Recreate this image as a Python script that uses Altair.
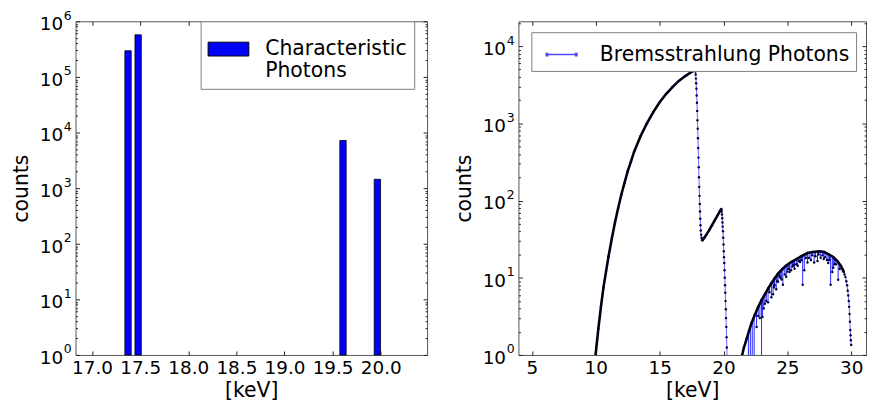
import altair as alt
import pandas as pd

FONT = "DejaVu Sans"

# ---------------- left panel: characteristic photons ----------------
char_energy = [17.374, 17.479, 19.608, 19.965]
char_counts = [2.95e5, 5.7e5, 7.2e3, 1.44e3]
char_base = [1, 1, 1, 1]
char_series = "Characteristic Photons"

left_xticks = [17.0, 17.5, 18.0, 18.5, 19.0, 19.5, 20.0]
left_yticks = [1, 10, 100, 1000, 10000, 100000, 1000000]
left_yminor = [k * 10 ** n for n in range(0, 6) for k in range(2, 10)]
left_xdom = [16.88, 20.43]
left_ydom = [1, 1000000]

# ---------------- right panel: bremsstrahlung photons ----------------
brems_series = "Bremsstrahlung Photons"
rise1_e = [9.95, 10.2, 10.4, 10.6, 10.8, 11.0, 11.25, 11.5, 11.75, 12.0, 12.25, 12.5,
           12.75, 13.0, 13.5, 14.0, 14.5, 15.0, 15.5, 16.0, 16.5, 17.0, 17.5, 17.77]
rise1_c = [0.9, 2.2, 4.2, 7.5, 12, 19, 32, 52, 80, 120, 170, 240,
           320, 430, 680, 1000, 1400, 1880, 2400, 2950, 3550, 4100, 4650, 4900]
drop1_e = [17.80, 17.82, 17.84, 17.86, 17.88, 17.90, 17.92, 17.94, 17.96, 17.98, 18.00, 18.02,
           18.04, 18.06, 18.08, 18.10, 18.12, 18.14, 18.16, 18.18, 18.20, 18.22, 18.25, 18.28,
           18.31, 18.34]
drop1_c = [4700, 4300, 3800, 3300, 2800, 2300, 1850, 1450, 1100, 850, 640, 480,
           360, 270, 200, 150, 115, 90, 72, 58, 48, 41, 36, 33,
           31, 30.5]
rise2_e = [18.34, 18.5, 18.7, 18.9, 19.1, 19.3, 19.5, 19.7, 19.82]
rise2_c = [30.5, 33, 37, 42, 48, 55, 63, 72, 78]
drop2_e = [19.84, 19.86, 19.88, 19.90, 19.92, 19.94, 19.96, 19.98, 20.00, 20.02, 20.04, 20.06,
           20.08, 20.10, 20.12, 20.14, 20.16, 20.18, 20.20, 20.22, 20.24, 20.26, 20.28]
drop2_c = [76, 72, 66, 59, 52, 46, 40, 33, 27, 22, 18.5, 15.5,
           12.5, 10, 8, 6.4, 5.0, 3.9, 3.0, 2.3, 1.7, 1.25, 0.9]
hump_e = [21.40, 21.6, 21.82, 22.0, 22.2, 22.45, 22.72, 23.0, 23.24, 23.5, 23.75, 24.0, 24.27,
          24.6, 24.91, 25.3, 25.68, 26.1, 26.58, 27.0, 27.49, 27.9, 28.26, 28.6, 28.90, 29.2, 29.42]
hump_c = [0.9, 1.25, 1.63, 2.05, 2.6, 3.3, 4.2, 5.2, 6.1, 7.3, 8.5, 9.8, 11.3,
          12.9, 14.4, 16.0, 17.3, 19.0, 20.9, 21.6, 22.0, 21.5, 20.0, 18.5, 16.5, 14.2, 11.9]
tail_e = [29.48, 29.55, 29.62, 29.68, 29.73, 29.77, 29.81, 29.84, 29.87, 29.90, 29.93, 29.95, 29.97, 30.00]
tail_c = [11.0, 10.2, 9.0, 8.0, 6.8, 5.9, 5.0, 4.2, 3.4, 2.7, 2.1, 1.8, 1.55, 1.35]
# noisy downward dips under the high-energy hump: energy, dip value, envelope value there
dip_e = [21.95, 22.10, 22.25, 22.40, 22.59, 22.72, 22.85, 22.98, 23.05, 23.15, 23.24, 23.35,
         23.49, 23.60, 23.75, 23.88, 23.95, 24.00, 24.13, 24.20, 24.27, 24.38, 24.45, 24.55,
         24.65, 24.80, 24.91, 25.00, 25.10, 25.17, 25.29, 25.40, 25.48, 25.56, 25.70, 25.81,
         25.92, 26.00, 26.10, 26.20, 26.33, 26.45, 26.58, 26.70, 26.85, 26.95, 27.10, 27.20,
         27.36, 27.45, 27.61, 27.75, 27.85, 27.95, 28.10, 28.20, 28.30, 28.39, 28.52, 28.60,
         28.70, 28.80, 28.98, 29.10]
dip_c = [0.5, 0.5, 0.5, 0.5, 2.3, 3.2, 3.0, 0.5, 3.1, 4.0, 4.6, 5.0,
         4.8, 6.5, 5.6, 6.1, 7.5, 8.0, 7.1, 9.0, 8.9, 10.5, 10, 9.5,
         8.1, 11, 10.3, 12, 13, 11.9, 12.5, 14, 14.5, 13.1, 15.0, 14.3,
         16.5, 16, 17.0, 8.1, 12.5, 18.0, 15.8, 18, 17, 19.5, 15.8, 19,
         16.5, 20.0, 18.2, 19.5, 17.5, 18.5, 17, 15.5, 17.0, 8.1, 11.9, 13.5,
         15, 15.0, 9.4, 13.0]
dip_top = [1.9, 2.3, 2.75, 3.15, 3.7, 4.2, 4.6, 5.1, 5.4, 5.8, 6.1, 6.6,
           7.2, 7.8, 8.5, 9.2, 9.6, 9.8, 10.5, 10.9, 11.3, 11.8, 12.2, 12.7,
           13.1, 13.9, 14.4, 14.8, 15.2, 15.5, 16.0, 16.4, 16.7, 16.9, 17.4, 17.8,
           18.3, 18.6, 19.0, 19.4, 20.0, 20.4, 20.9, 21.1, 21.4, 21.6, 21.7, 21.8,
           22.0, 22.0, 22.0, 21.8, 21.6, 21.3, 20.7, 20.4, 20.0, 19.5, 19.0, 18.5,
           18.0, 17.3, 16.0, 15.0]

right_xticks = [5, 10, 15, 20, 25, 30]
right_yticks = [1, 10, 100, 1000, 10000]
right_yminor = [k * 10 ** n for n in range(0, 5) for k in range(2, 10) if k * 10 ** n <= 21000]
right_xdom = [3.94, 31.16]
right_ydom = [1, 21000]

# ---------------- tables ----------------
char_df = pd.DataFrame({"E": char_energy, "c": char_counts, "base": char_base, "series": char_series})


def seg(e, c, name):
    return pd.DataFrame({"E": e, "c": c, "seg": name})


line_df = pd.concat([seg(rise1_e, rise1_c, "main"), seg(drop1_e, drop1_c, "main"),
                     seg(rise2_e, rise2_c, "main"), seg(drop2_e, drop2_c, "main"),
                     seg(hump_e, hump_c, "high"), seg(tail_e, tail_c, "high")], ignore_index=True)
line_df["order"] = range(len(line_df))
line_df["series"] = brems_series
band_df = pd.concat([seg(rise1_e, rise1_c, "b1"), seg(rise2_e, rise2_c, "b2"),
                     seg(hump_e, hump_c, "b3")], ignore_index=True)
band_df["order"] = range(len(band_df))
dip_df = pd.DataFrame({"E": dip_e, "c": dip_c, "top": dip_top})
marker_df = pd.concat([line_df[["E", "c"]], dip_df[["E", "c"]]], ignore_index=True)

MAJOR = "abs(log(datum.value)/LN10 - round(log(datum.value)/LN10)) < 0.001"
TICK = "#222222"
TICK_FS = 18.5
TITLE_FS = 20.5
LEG_FS = 20.5
EXP_FS = 12.5


def x_label_axis(vals, fmt):
    return alt.Axis(orient="bottom", values=vals, format=fmt, ticks=False, domain=False, grid=False,
                    labelFontSize=TICK_FS, labelFont=FONT, labelColor="black", labelPadding=4,
                    labelOverlap=False, labelFlush=False,
                    title="[keV]", titleFontSize=TITLE_FS, titleFont=FONT, titleFontWeight="normal",
                    titleColor="black", titlePadding=3)


def y_label_axis(vals):
    return alt.Axis(orient="left", values=vals, labelExpr="'10'", ticks=False, domain=False, grid=False,
                    labelFontSize=TICK_FS, labelFont=FONT, labelColor="black", labelPadding=13,
                    labelBaseline="alphabetic", labelOffset=8.5, labelOverlap=False, labelFlush=False,
                    title="counts", titleFontSize=TITLE_FS, titleFont=FONT, titleFontWeight="normal",
                    titleColor="black", titlePadding=8)


def exponent_layer(ticks, ys):
    df = pd.DataFrame({"v": ticks})
    return alt.Chart(df).transform_calculate(
        exp="format(round(log(datum.v)/LN10), 'd')"
    ).mark_text(align="left", baseline="alphabetic", fontSize=EXP_FS, font=FONT, color="black",
                dy=-1.5, clip=False).encode(
        x=alt.value(-11.8),
        y=alt.Y("v:Q", scale=ys, axis=None),
        text="exp:N",
    )


def tick_layers(data, xs, ys, xvals, yvals, w, h):
    ysize = {"condition": {"test": MAJOR, "value": 4}, "value": 2}
    out = []
    for xo, yo in (("top", "right"), ("bottom", "left")):
        out.append(alt.Chart(data).mark_point(opacity=0).encode(
            x=alt.X("E:Q", scale=xs, axis=alt.Axis(orient=xo, offset=-h, values=xvals, labels=False,
                                                   domain=False, grid=False, title=None,
                                                   tickSize=4, tickColor=TICK, tickWidth=1)),
            y=alt.Y("c:Q", scale=ys, axis=alt.Axis(orient=yo, offset=-w, values=yvals, labels=False,
                                                   domain=False, grid=False, title=None,
                                                   tickSize=ysize, tickColor=TICK, tickWidth=1)),
        ))
    return out


LW, RW, H = 354, 350, 336

# ---------------- left chart ----------------
lxs = alt.Scale(domain=left_xdom, nice=False, zero=False)
lys = alt.Scale(type="log", domain=left_ydom, nice=False)
left_legend = alt.Legend(title=None, orient="none", legendX=126, legendY=0, padding=7,
                         strokeColor="#808080", fillColor="white", cornerRadius=0,
                         labelFontSize=LEG_FS, labelFont=FONT, labelColor="black", labelLimit=400,
                         labelExpr="['Characteristic', 'Photons']", labelOffset=16,
                         symbolType="M-1,-0.34H1V0.34H-1Z", symbolSize=1681,
                         symbolStrokeColor="black", symbolStrokeWidth=1)
bars = alt.Chart(char_df).mark_bar(size=6.4, stroke="black", strokeWidth=0.8).encode(
    x=alt.X("E:Q", scale=lxs, axis=x_label_axis(left_xticks, ".1f")),
    y=alt.Y("c:Q", scale=lys, axis=y_label_axis(left_yticks)),
    y2="base:Q",
    color=alt.Color("series:N", scale=alt.Scale(range=["#0000ff"]), legend=left_legend),
)
left = alt.layer(bars, exponent_layer(left_yticks, lys),
                 *tick_layers(char_df, lxs, lys, left_xticks, left_yticks + left_yminor, LW, H)
                 ).resolve_axis(x="independent", y="independent").properties(width=LW, height=H)

# ---------------- right chart ----------------
rxs = alt.Scale(domain=right_xdom, nice=False, zero=False)
rys = alt.Scale(type="log", domain=right_ydom, nice=False)
right_legend = alt.Legend(title=None, orient="none", legendX=13, legendY=11, padding=6,
                          strokeColor="#808080", fillColor="white", cornerRadius=0,
                          labelFontSize=LEG_FS, labelFont=FONT, labelColor="black", labelLimit=400,
                          labelOffset=22, symbolOffset=8,
                          symbolType="M-1,0H1M-1,-0.07H-0.9V0.07H-1ZM0.9,-0.07H1V0.07H0.9Z",
                          symbolSize=961, symbolStrokeWidth=1.5, symbolOpacity=0.7)
blue_line = alt.Chart(line_df).mark_line(strokeWidth=1, opacity=0.6, clip=True).encode(
    x=alt.X("E:Q", scale=rxs, axis=x_label_axis(right_xticks, "d")),
    y=alt.Y("c:Q", scale=rys, axis=y_label_axis(right_yticks)),
    detail="seg:N", order="order:Q",
    color=alt.Color("series:N", scale=alt.Scale(range=["#0000ff"]), legend=right_legend),
)
spikes = alt.Chart(dip_df).mark_rule(color="#0000ff", strokeWidth=1, opacity=0.85, clip=True).encode(
    x=alt.X("E:Q", scale=rxs, axis=None),
    y=alt.Y("c:Q", scale=rys, axis=None),
    y2="top:Q",
)
band = alt.Chart(band_df).mark_line(color="#00000f", strokeWidth=2.6, clip=True).encode(
    x=alt.X("E:Q", scale=rxs, axis=None),
    y=alt.Y("c:Q", scale=rys, axis=None),
    detail="seg:N", order="order:Q",
)
markers = alt.Chart(marker_df).mark_circle(color="#000033", size=6, opacity=1, clip=True).encode(
    x=alt.X("E:Q", scale=rxs, axis=None),
    y=alt.Y("c:Q", scale=rys, axis=None),
)
right = alt.layer(blue_line, spikes, band, markers, exponent_layer(right_yticks, rys),
                  *tick_layers(line_df, rxs, rys, right_xticks, right_yticks + right_yminor, RW, H)
                  ).resolve_axis(x="independent", y="independent").properties(width=RW, height=H)

chart = alt.hconcat(left, right, spacing=92, bounds="flush").resolve_scale(
    x="independent", y="independent", color="independent"
).properties(
    padding={"left": 2, "top": 0, "right": 0, "bottom": 0}
).configure(font=FONT).configure_view(stroke="#555555", strokeWidth=1)

chart.save("out.html", embed_options={"renderer": "svg", "actions": False})
